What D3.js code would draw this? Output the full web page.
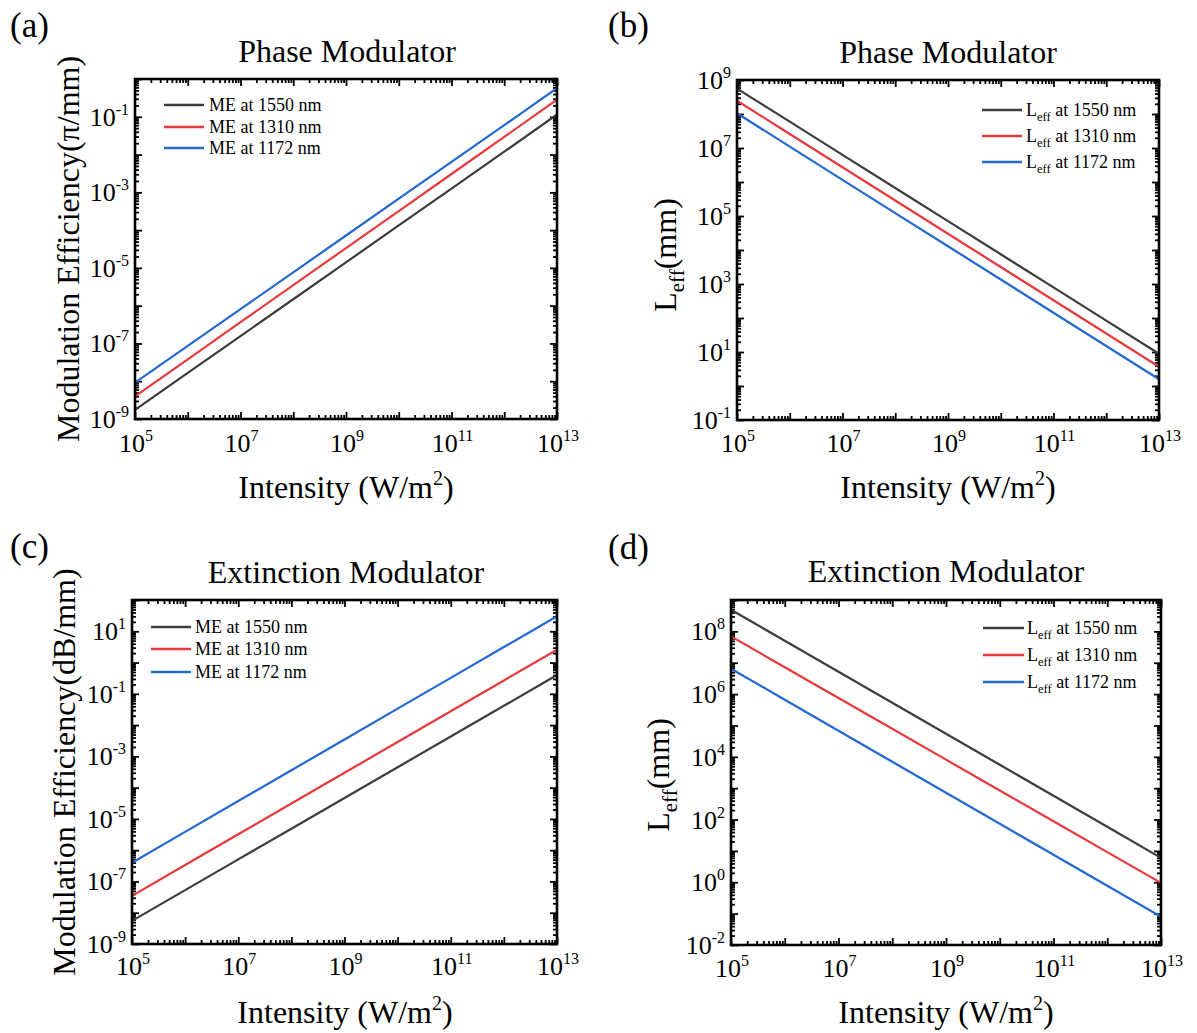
<!DOCTYPE html>
<html><head><meta charset="utf-8">
<script src="https://cdn.jsdelivr.net/npm/d3@7"></script>
<style>
body{margin:0;background:#fff}
text{font-family:"Liberation Serif","Times New Roman",serif;fill:#000}
</style>
</head><body>
<svg id="chart" width="1197" height="1033"></svg>
<script>
// ---------- data ----------
const intensity = [1e5, 1e6, 1e7, 1e8, 1e9, 1e10, 1e11, 1e12, 1e13];
const wavelengths = ["1550 nm", "1310 nm", "1172 nm"];
const xTickExps = [5, 7, 9, 11, 13];

// (a) phase modulator, modulation efficiency (pi/mm)
const phaseME_1550 = [1.75e-9, 1.66e-8, 1.57e-7, 1.48e-6, 1.40e-5, 1.33e-4, 1.26e-3, 1.19e-2, 0.115];
const phaseME_1310 = [3.98e-9, 3.81e-8, 3.65e-7, 3.49e-6, 3.34e-5, 3.20e-4, 3.06e-3, 2.93e-2, 0.285];
const phaseME_1172 = [9.2e-9, 8.6e-8, 8.1e-7, 7.6e-6, 7.2e-5, 6.8e-4, 6.4e-3, 6.0e-2, 0.57];
const yTickExpsA = [-9, -7, -5, -3, -1];

// (b) phase modulator, L_eff (mm)
const phaseL_1550 = [5.6e8, 5.96e7, 6.3e6, 6.68e5, 7.08e4, 7.5e3, 794, 84.1, 8.9];
const phaseL_1310 = [2.45e8, 2.58e7, 2.72e6, 2.86e5, 3.01e4, 3.16e3, 333, 35.0, 3.68];
const phaseL_1172 = [1.05e8, 1.10e7, 1.16e6, 1.22e5, 1.29e4, 1.36e3, 143, 15.0, 1.58];
const yTickExpsB = [-1, 1, 3, 5, 7, 9];

// (c) extinction modulator, modulation efficiency (dB/mm)
const extME_1550 = [5.5e-9, 5.28e-8, 5.07e-7, 4.87e-6, 4.68e-5, 4.49e-4, 4.32e-3, 4.14e-2, 0.398];
const extME_1310 = [3.47e-8, 3.34e-7, 3.22e-6, 3.10e-5, 2.99e-4, 2.88e-3, 2.77e-2, 0.267, 2.57];
const extME_1172 = [3.98e-7, 3.85e-6, 3.72e-5, 3.59e-4, 3.47e-3, 3.35e-2, 0.324, 3.13, 30.2];
const yTickExpsC = [-9, -7, -5, -3, -1, 1];

// (d) extinction modulator, L_eff (mm)
const extL_1550 = [4.9e8, 5.02e7, 5.16e6, 5.29e5, 5.43e4, 5.58e3, 572, 58.7, 6.0];
const extL_1310 = [6.9e7, 7.2e6, 7.5e5, 7.81e4, 8.13e3, 846, 88.1, 9.17, 0.955];
const extL_1172 = [6.46e6, 6.62e5, 6.80e4, 6.98e3, 716, 73.5, 7.54, 0.774, 0.0794];
const yTickExpsD = [-2, 0, 2, 4, 6, 8];

// ---------- styling / layout ----------
const colors = ["#3d3d3d", "#e8393c", "#2468d2"];
const panels = [
  {letter:"(a)", lx:10, ly:37, title:"Phase Modulator", tx:347, ty:62,
   x0:135, x1:557, y0:79, y1:419, yDom:[1e-9, 1], yExps:yTickExpsA,
   series:[phaseME_1550, phaseME_1310, phaseME_1172], leff:false,
   ylab:"Modulation Efficiency(π/mm)", ylx:79, yly:249, xlx:346, xly:498, xtly:452,
   leg:{l0:164, l1:204, tx:209, rows:[105,127,148]}},
  {letter:"(b)", lx:608, ly:37, title:"Phase Modulator", tx:948, ty:63,
   x0:737, x1:1159, y0:80, y1:420, yDom:[1e-1, 1e9], yExps:yTickExpsB,
   series:[phaseL_1550, phaseL_1310, phaseL_1172], leff:true,
   ylab:null, ylx:676, yly:255, xlx:948, xly:498, xtly:452,
   leg:{l0:982, l1:1022, tx:1026, rows:[110,136,162]}},
  {letter:"(c)", lx:10, ly:558, title:"Extinction Modulator", tx:346, ty:583,
   x0:132, x1:557, y0:600, y1:944, yDom:[1e-9, 1e2], yExps:yTickExpsC,
   series:[extME_1550, extME_1310, extME_1172], leff:false,
   ylab:"Modulation Efficiency(dB/mm)", ylx:75, yly:772, xlx:345, xly:1023, xtly:975,
   leg:{l0:151, l1:191, tx:195, rows:[627,649,672]}},
  {letter:"(d)", lx:608, ly:559, title:"Extinction Modulator", tx:946, ty:582,
   x0:731, x1:1161, y0:600, y1:945, yDom:[1e-2, 1e9], yExps:yTickExpsD,
   series:[extL_1550, extL_1310, extL_1172], leff:true,
   ylab:null, ylx:669, yly:775, xlx:946, xly:1023, xtly:977,
   leg:{l0:983, l1:1024, tx:1027, rows:[628,655,682]}}
];

const svg = d3.select("#chart");

function minorTicks(dom) {
  const lo = Math.round(Math.log10(dom[0])), hi = Math.round(Math.log10(dom[1]));
  const out = [];
  for (let e = lo; e < hi; e++) for (let m = 2; m <= 9; m++) out.push(m * Math.pow(10, e));
  return out;
}
function majorTicks(dom) {
  const lo = Math.round(Math.log10(dom[0])), hi = Math.round(Math.log10(dom[1]));
  const out = [];
  for (let e = lo; e <= hi; e++) out.push(Math.pow(10, e));
  return out;
}

panels.forEach(p => {
  const g = svg.append("g");
  const x = d3.scaleLog().domain([1e5, 1e13]).range([p.x0, p.x1]);
  const y = d3.scaleLog().domain(p.yDom).range([p.y1, p.y0]);

  // ticks on all four sides, pointing inward
  const axes = [
    {a: () => d3.axisBottom(x), t:`translate(0,${p.y1})`, s: x},
    {a: () => d3.axisTop(x), t:`translate(0,${p.y0})`, s: x},
    {a: () => d3.axisLeft(y), t:`translate(${p.x0},0)`, s: y},
    {a: () => d3.axisRight(y), t:`translate(${p.x1},0)`, s: y}
  ];
  axes.forEach(ax => {
    const dom = ax.s.domain();
    const gm = g.append("g").attr("transform", ax.t)
      .call(ax.a().tickValues(majorTicks(dom)).tickSize(-7).tickSizeOuter(0).tickFormat(() => ""));
    const gn = g.append("g").attr("transform", ax.t)
      .call(ax.a().tickValues(minorTicks(dom)).tickSize(-4).tickSizeOuter(0).tickFormat(() => ""));
    [gm, gn].forEach(s => {
      s.select(".domain").remove();
      s.selectAll(".tick line").attr("stroke", "#000").attr("stroke-width", 1.8);
    });
  });

  // series lines
  const line = d3.line().x((d, i) => x(intensity[i])).y(d => y(d));
  p.series.forEach((s, k) => {
    g.append("path").datum(s).attr("d", line)
      .attr("fill", "none").attr("stroke", colors[k]).attr("stroke-width", 2.2);
  });

  // frame
  g.append("rect").attr("x", p.x0).attr("y", p.y0)
    .attr("width", p.x1 - p.x0).attr("height", p.y1 - p.y0)
    .attr("fill", "none").attr("stroke", "#000").attr("stroke-width", 2.6);

  // x tick labels
  xTickExps.forEach(e => {
    const t = g.append("text").attr("x", x(Math.pow(10, e)) + 1).attr("y", p.xtly)
      .attr("text-anchor", "middle").attr("font-size", 26);
    t.append("tspan").text("10");
    t.append("tspan").attr("dy", -11).attr("font-size", 16).text(e);
  });
  // y tick labels
  p.yExps.forEach(e => {
    const t = g.append("text").attr("x", p.x0 - 6).attr("y", y(Math.pow(10, e)) + 9)
      .attr("text-anchor", "end").attr("font-size", 26);
    t.append("tspan").text("10");
    t.append("tspan").attr("dy", -11).attr("font-size", 16).text(e);
  });

  // panel letter and title
  g.append("text").attr("x", p.lx).attr("y", p.ly).attr("font-size", 35).text(p.letter);
  g.append("text").attr("x", p.tx).attr("y", p.ty).attr("text-anchor", "middle")
    .attr("font-size", 32).text(p.title);

  // x axis label
  const xl = g.append("text").attr("x", p.xlx).attr("y", p.xly).attr("text-anchor", "middle")
    .attr("font-size", 32);
  xl.append("tspan").text("Intensity (W/m");
  xl.append("tspan").attr("dy", -13).attr("font-size", 20).text("2");
  xl.append("tspan").attr("dy", 13).text(")");

  // y axis label
  const yl = g.append("text").attr("transform", `translate(${p.ylx},${p.yly}) rotate(-90)`)
    .attr("text-anchor", "middle").attr("font-size", 32);
  if (p.leff) {
    yl.append("tspan").text("L");
    yl.append("tspan").attr("dy", 8).attr("font-size", 21).text("eff");
    yl.append("tspan").attr("dy", -8).text("(mm)");
  } else {
    yl.text(p.ylab);
  }

  // legend
  p.leg.rows.forEach((ry, k) => {
    g.append("line").attr("x1", p.leg.l0).attr("x2", p.leg.l1).attr("y1", ry).attr("y2", ry)
      .attr("stroke", colors[k]).attr("stroke-width", 2.6);
    const t = g.append("text").attr("x", p.leg.tx).attr("y", ry + 6).attr("font-size", 18);
    if (p.leff) {
      t.append("tspan").text("L");
      t.append("tspan").attr("dy", 5).attr("font-size", 12.5).text("eff");
      t.append("tspan").attr("dy", -5).text(" at " + wavelengths[k]);
    } else {
      t.text("ME at " + wavelengths[k]);
    }
  });
});
</script>
</body></html>
